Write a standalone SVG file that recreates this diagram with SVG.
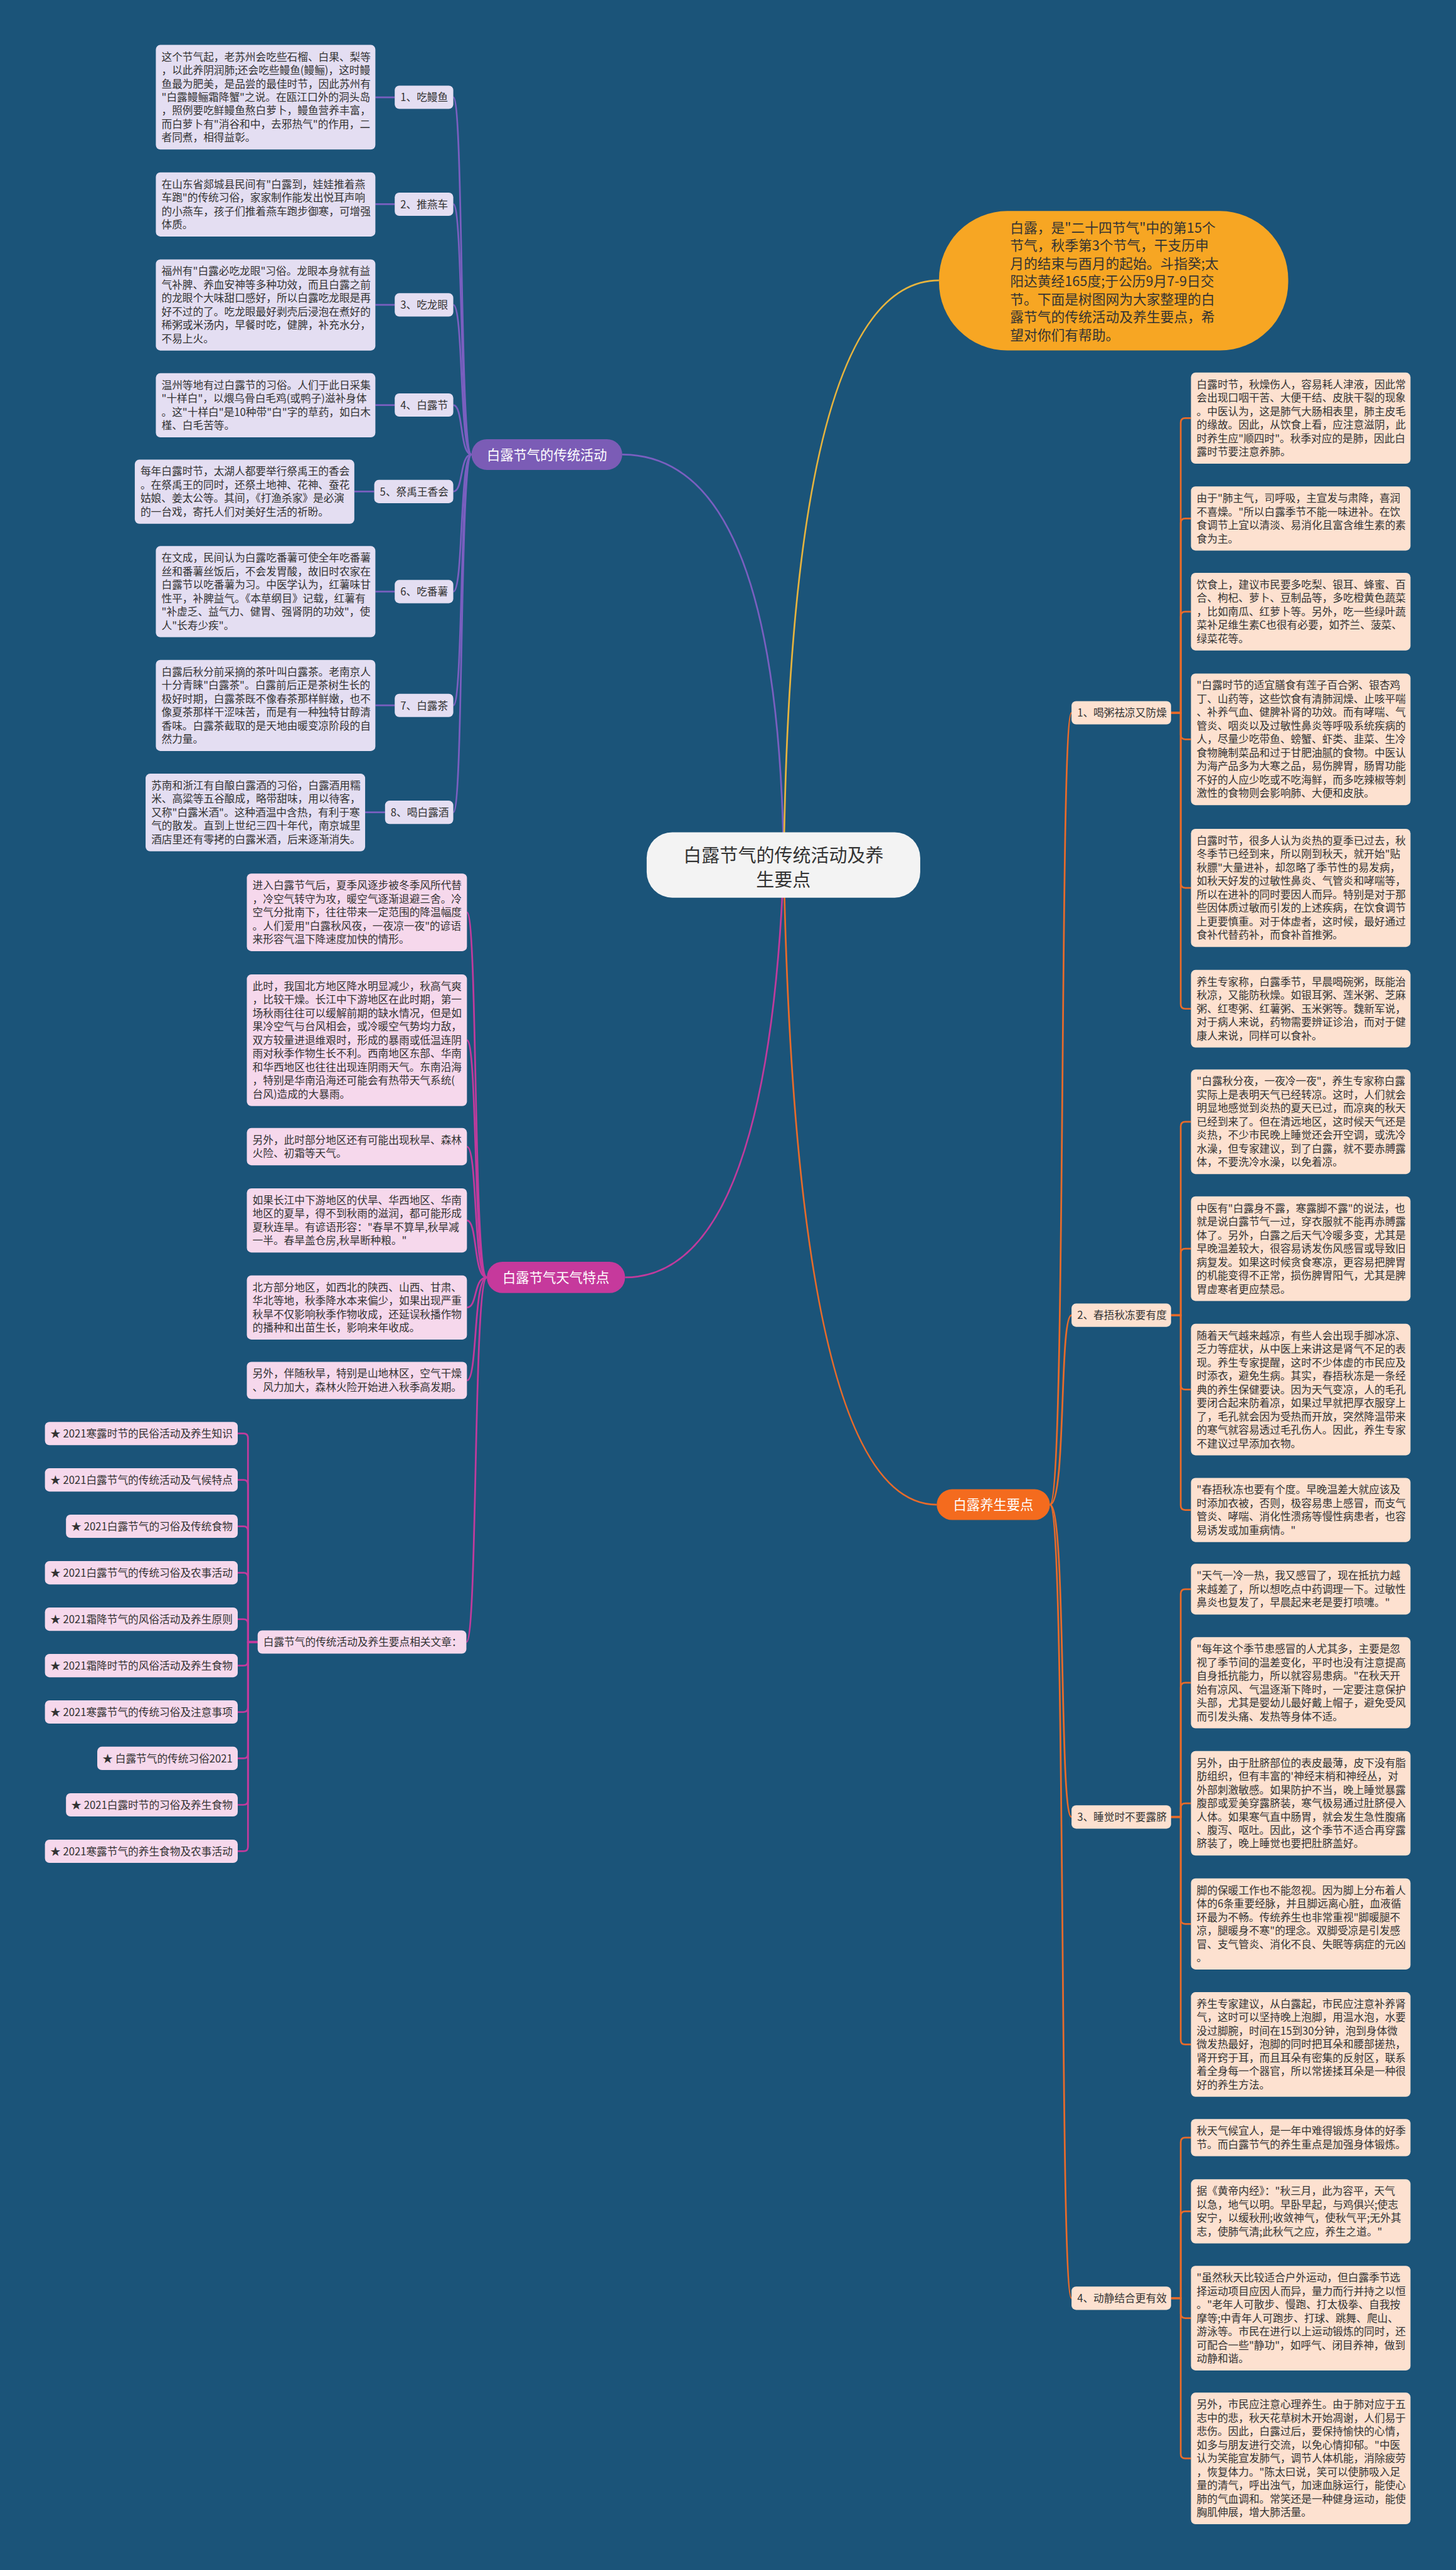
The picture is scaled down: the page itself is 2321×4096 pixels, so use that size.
<svg xmlns="http://www.w3.org/2000/svg" width="2321" height="4096" viewBox="0 0 2321 4096">
<style>
.t{font-family:"Noto Sans CJK SC","Noto Sans",sans-serif;font-size:18.4px;fill:#333}
.tw{font-family:"Noto Sans CJK SC","Noto Sans",sans-serif;font-size:23.5px;fill:#fff}
.tc{font-family:"Noto Sans CJK SC","Noto Sans",sans-serif;font-size:32px;fill:#333}
.tb{font-family:"Noto Sans CJK SC","Noto Sans",sans-serif;font-size:24px;fill:#333}
.pu{fill:#e4def2}
.pk{fill:#f6d8ec}
.or{fill:#fde1d0}
.lp{stroke:#7a5fc0;stroke-width:3;fill:none}
.lm{stroke:#c13b9d;stroke-width:3;fill:none}
.lo{stroke:#e86b2a;stroke-width:3;fill:none}
.ly{stroke:#e7b43e;stroke-width:3;fill:none}
</style>
<rect width="2321" height="4096" fill="#1b5479"/>
<g transform="scale(0.90664)">
<g id="connectors">
<path class="lp" d="M1094,799 Q1370,799 1378,1520"/>
<path class="ly" d="M1651,493 Q1390,493 1378,1520"/>
<path class="lm" d="M1099,2245.5 Q1350,2245.5 1378,1520"/>
<path class="lo" d="M1647,2645 Q1400,2645 1378,1520"/>
<path class="lp" d="M797,171 C815,171 808,799 829,799"/>
<path class="lp" d="M797,359 C815,359 808,799 829,799"/>
<path class="lp" d="M797,536 C815,536 808,799 829,799"/>
<path class="lp" d="M797,712 C815,712 808,799 829,799"/>
<path class="lp" d="M797,864 C815,864 808,799 829,799"/>
<path class="lp" d="M797,1040 C815,1040 808,799 829,799"/>
<path class="lp" d="M797,1240 C815,1240 808,799 829,799"/>
<path class="lp" d="M797,1428 C815,1428 808,799 829,799"/>
<path class="lp" d="M660,171 H694 M660,359 H694 M660,536 H694 M660,712 H694 M623,864 H658 M660,1040 H694 M660,1240 H694 M642,1428 H677"/>
<path class="lm" d="M821,1603.75 C840,1603.75 832,2245.5 856,2245.5"/>
<path class="lm" d="M821,1828.65 C840,1828.65 832,2245.5 856,2245.5"/>
<path class="lm" d="M821,2015.7 C840,2015.7 832,2245.5 856,2245.5"/>
<path class="lm" d="M821,2145.4 C840,2145.4 832,2245.5 856,2245.5"/>
<path class="lm" d="M821,2298.4 C840,2298.4 832,2245.5 856,2245.5"/>
<path class="lm" d="M821,2426.7 C840,2426.7 832,2245.5 856,2245.5"/>
<path class="lm" d="M820,2886.5 C840,2886.5 832,2245.5 856,2245.5"/>
<path class="lm" d="M453,2886.5 H436 V2528 Q436,2520 428,2520 H418"/>
<path class="lm" d="M453,2886.5 H436 V2609.5 Q436,2601.5 428,2601.5 H418"/>
<path class="lm" d="M453,2886.5 H436 V2691 Q436,2683 428,2683 H418"/>
<path class="lm" d="M453,2886.5 H436 V2772.7 Q436,2764.7 428,2764.7 H418"/>
<path class="lm" d="M453,2886.5 H436 V2854.3 Q436,2846.3 428,2846.3 H418"/>
<path class="lm" d="M453,2886.5 H436 V2920 Q436,2928 428,2928 H418"/>
<path class="lm" d="M453,2886.5 H436 V3001.5 Q436,3009.5 428,3009.5 H418"/>
<path class="lm" d="M453,2886.5 H436 V3083 Q436,3091 428,3091 H418"/>
<path class="lm" d="M453,2886.5 H436 V3164.7 Q436,3172.7 428,3172.7 H418"/>
<path class="lm" d="M453,2886.5 H436 V3246.3 Q436,3254.3 428,3254.3 H418"/>
<path class="lo" d="M1846,2645 C1875,2645 1862,1253 1884,1253"/>
<path class="lo" d="M1846,2645 C1875,2645 1862,2312 1884,2312"/>
<path class="lo" d="M1846,2645 C1875,2645 1862,3194 1884,3194"/>
<path class="lo" d="M1846,2645 C1875,2645 1862,4040 1884,4040"/>
<path class="lo" d="M2059,1253 H2076 V743 Q2076,735 2084,735 H2094"/>
<path class="lo" d="M2059,1253 H2076 V919.4 Q2076,911.4 2084,911.4 H2094"/>
<path class="lo" d="M2059,1253 H2076 V1083.3 Q2076,1075.3 2084,1075.3 H2094"/>
<path class="lo" d="M2059,1253 H2076 V1291.7 Q2076,1299.7 2084,1299.7 H2094"/>
<path class="lo" d="M2059,1253 H2076 V1552.8 Q2076,1560.8 2084,1560.8 H2094"/>
<path class="lo" d="M2059,1253 H2076 V1765.3 Q2076,1773.3 2084,1773.3 H2094"/>
<path class="lo" d="M2059,2312 H2076 V1980 Q2076,1972 2084,1972 H2094"/>
<path class="lo" d="M2059,2312 H2076 V2203 Q2076,2195 2084,2195 H2094"/>
<path class="lo" d="M2059,2312 H2076 V2434.7 Q2076,2442.7 2084,2442.7 H2094"/>
<path class="lo" d="M2059,2312 H2076 V2646.4 Q2076,2654.4 2084,2654.4 H2094"/>
<path class="lo" d="M2059,3194 H2076 V2801.6 Q2076,2793.6 2084,2793.6 H2094"/>
<path class="lo" d="M2059,3194 H2076 V2966.1 Q2076,2958.1 2084,2958.1 H2094"/>
<path class="lo" d="M2059,3194 H2076 V3178 Q2076,3170 2084,3170 H2094"/>
<path class="lo" d="M2059,3194 H2076 V3374.1 Q2076,3382.1 2084,3382.1 H2094"/>
<path class="lo" d="M2059,3194 H2076 V3586 Q2076,3594 2084,3594 H2094"/>
<path class="lo" d="M2059,4040 H2076 V3765.7 Q2076,3757.7 2084,3757.7 H2094"/>
<path class="lo" d="M2059,4040 H2076 V3895.4 Q2076,3887.4 2084,3887.4 H2094"/>
<path class="lo" d="M2059,4040 H2076 V4067 Q2076,4075 2084,4075 H2094"/>
<path class="lo" d="M2059,4040 H2076 V4313.7 Q2076,4321.7 2084,4321.7 H2094"/>
</g>

<g id="center"><rect x="1137" y="1463" width="481" height="115" rx="45" fill="#f3f3f3"/>
<text class="tc" x="1377.5" y="1515" text-anchor="middle">白露节气的传统活动及养</text>
<text class="tc" x="1377.5" y="1558" text-anchor="middle">生要点</text></g>

<g id="intro"><rect x="1651" y="371" width="614" height="245" rx="120" fill="#f7a623"/>
<text class="tb" x="1776" y="409"><tspan x="1776" dy="0">白露，是"二十四节气"中的第15个</tspan><tspan x="1776" dy="31.4">节气，秋季第3个节气，干支历申</tspan><tspan x="1776" dy="31.4">月的结束与酉月的起始。斗指癸;太</tspan><tspan x="1776" dy="31.4">阳达黄经165度;于公历9月7-9日交</tspan><tspan x="1776" dy="31.4">节。下面是树图网为大家整理的白</tspan><tspan x="1776" dy="31.4">露节气的传统活动及养生要点，希</tspan><tspan x="1776" dy="31.4">望对你们有帮助。</tspan></text></g>

<g id="b-huodong"><rect x="829" y="772" width="265" height="54" rx="27" fill="#7b5cb6"/>
<text class="tw" x="961.5" y="808" text-anchor="middle">白露节气的传统活动</text></g>

<g id="b-tianqi"><rect x="856" y="2218" width="243" height="55" rx="27.5" fill="#c6399c"/>
<text class="tw" x="977.5" y="2254.5" text-anchor="middle">白露节气天气特点</text></g>

<g id="b-yangsheng"><rect x="1647" y="2618" width="199" height="54" rx="27" fill="#f46b1e"/>
<text class="tw" x="1746.5" y="2654" text-anchor="middle">白露养生要点</text></g>

<g id="h-l1"><rect class="pu" x="694" y="150.5" width="103" height="41" rx="8"/><text class="t" x="704" y="178">1、吃鳗鱼</text></g>
<g id="h-l2"><rect class="pu" x="694" y="338.5" width="103" height="41" rx="8"/><text class="t" x="704" y="366">2、推燕车</text></g>
<g id="h-l3"><rect class="pu" x="694" y="515.5" width="103" height="41" rx="8"/><text class="t" x="704" y="543">3、吃龙眼</text></g>
<g id="h-l4"><rect class="pu" x="694" y="691.5" width="103" height="41" rx="8"/><text class="t" x="704" y="719">4、白露节</text></g>
<g id="h-l5"><rect class="pu" x="658" y="843.5" width="139" height="41" rx="8"/><text class="t" x="668" y="871">5、祭禹王香会</text></g>
<g id="h-l6"><rect class="pu" x="694" y="1019.5" width="103" height="41" rx="8"/><text class="t" x="704" y="1047">6、吃番薯</text></g>
<g id="h-l7"><rect class="pu" x="694" y="1219.5" width="103" height="41" rx="8"/><text class="t" x="704" y="1247">7、白露茶</text></g>
<g id="h-l8"><rect class="pu" x="677" y="1407.5" width="120" height="41" rx="8"/><text class="t" x="687" y="1435">8、喝白露酒</text></g>

<g id="h-n1"><rect class="pu" x="274" y="79" width="386" height="183.9" rx="8"/><text class="t" x="284" y="106.5"><tspan x="284" dy="0">这个节气起，老苏州会吃些石榴、白果、梨等</tspan><tspan x="284" dy="23.7">，以此养阴润肺;还会吃些鳗鱼(鳗鲡)，这时鳗</tspan><tspan x="284" dy="23.7">鱼最为肥美，是品尝的最佳时节，因此苏州有</tspan><tspan x="284" dy="23.7">"白露鳗鲡霜降蟹"之说。在瓯江口外的洞头岛</tspan><tspan x="284" dy="23.7">，照例要吃鲜鳗鱼熬白萝卜，鳗鱼营养丰富，</tspan><tspan x="284" dy="23.7">而白萝卜有"消谷和中，去邪热气"的作用，二</tspan><tspan x="284" dy="23.7">者同煮，相得益彰。</tspan></text></g>
<g id="h-n2"><rect class="pu" x="274" y="303" width="386" height="112.8" rx="8"/><text class="t" x="284" y="330.5"><tspan x="284" dy="0">在山东省郯城县民间有"白露到，娃娃推着燕</tspan><tspan x="284" dy="23.7">车跑"的传统习俗，家家制作能发出悦耳声响</tspan><tspan x="284" dy="23.7">的小燕车，孩子们推着燕车跑步御寒，可增强</tspan><tspan x="284" dy="23.7">体质。</tspan></text></g>
<g id="h-n3"><rect class="pu" x="274" y="456" width="386" height="160.2" rx="8"/><text class="t" x="284" y="483.5"><tspan x="284" dy="0">福州有"白露必吃龙眼"习俗。龙眼本身就有益</tspan><tspan x="284" dy="23.7">气补脾、养血安神等多种功效，而且白露之前</tspan><tspan x="284" dy="23.7">的龙眼个大味甜口感好，所以白露吃龙眼是再</tspan><tspan x="284" dy="23.7">好不过的了。吃龙眼最好剥壳后浸泡在煮好的</tspan><tspan x="284" dy="23.7">稀粥或米汤内，早餐时吃，健脾，补充水分，</tspan><tspan x="284" dy="23.7">不易上火。</tspan></text></g>
<g id="h-n4"><rect class="pu" x="274" y="656" width="386" height="112.8" rx="8"/><text class="t" x="284" y="683.5"><tspan x="284" dy="0">温州等地有过白露节的习俗。人们于此日采集</tspan><tspan x="284" dy="23.7">"十样白"，以煨乌骨白毛鸡(或鸭子)滋补身体</tspan><tspan x="284" dy="23.7">。这"十样白"是10种带"白"字的草药，如白木</tspan><tspan x="284" dy="23.7">槿、白毛苦等。</tspan></text></g>
<g id="h-n5"><rect class="pu" x="237" y="808" width="386" height="112.8" rx="8"/><text class="t" x="247" y="835.5"><tspan x="247" dy="0">每年白露时节，太湖人都要举行祭禹王的香会</tspan><tspan x="247" dy="23.7">。在祭禹王的同时，还祭土地神、花神、蚕花</tspan><tspan x="247" dy="23.7">姑娘、姜太公等。其间，《打渔杀家》是必演</tspan><tspan x="247" dy="23.7">的一台戏，寄托人们对美好生活的祈盼。</tspan></text></g>
<g id="h-n6"><rect class="pu" x="274" y="960" width="386" height="160.2" rx="8"/><text class="t" x="284" y="987.5"><tspan x="284" dy="0">在文成，民间认为白露吃番薯可使全年吃番薯</tspan><tspan x="284" dy="23.7">丝和番薯丝饭后，不会发胃酸，故旧时农家在</tspan><tspan x="284" dy="23.7">白露节以吃番薯为习。中医学认为，红薯味甘</tspan><tspan x="284" dy="23.7">性平，补脾益气。《本草纲目》记载，红薯有</tspan><tspan x="284" dy="23.7">"补虚乏、益气力、健胃、强肾阴的功效"，使</tspan><tspan x="284" dy="23.7">人"长寿少疾"。</tspan></text></g>
<g id="h-n7"><rect class="pu" x="274" y="1160" width="386" height="160.2" rx="8"/><text class="t" x="284" y="1187.5"><tspan x="284" dy="0">白露后秋分前采摘的茶叶叫白露茶。老南京人</tspan><tspan x="284" dy="23.7">十分青睐"白露茶"。白露前后正是茶树生长的</tspan><tspan x="284" dy="23.7">极好时期，白露茶既不像春茶那样鲜嫩，也不</tspan><tspan x="284" dy="23.7">像夏茶那样干涩味苦，而是有一种独特甘醇清</tspan><tspan x="284" dy="23.7">香味。白露茶截取的是天地由暖变凉阶段的自</tspan><tspan x="284" dy="23.7">然力量。</tspan></text></g>
<g id="h-n8"><rect class="pu" x="256" y="1360" width="386" height="136.5" rx="8"/><text class="t" x="266" y="1387.5"><tspan x="266" dy="0">苏南和浙江有自酿白露酒的习俗，白露酒用糯</tspan><tspan x="266" dy="23.7">米、高粱等五谷酿成，略带甜味，用以待客，</tspan><tspan x="266" dy="23.7">又称"白露米酒"。这种酒温中含热，有利于寒</tspan><tspan x="266" dy="23.7">气的散发。直到上世纪三四十年代，南京城里</tspan><tspan x="266" dy="23.7">酒店里还有零拷的白露米酒，后来逐渐消失。</tspan></text></g>

<g id="w-a"><rect class="pk" x="434" y="1535.5" width="387" height="136.5" rx="8"/><text class="t" x="444" y="1563"><tspan x="444" dy="0">进入白露节气后，夏季风逐步被冬季风所代替</tspan><tspan x="444" dy="23.7">，冷空气转守为攻，暖空气逐渐退避三舍。冷</tspan><tspan x="444" dy="23.7">空气分批南下，往往带来一定范围的降温幅度</tspan><tspan x="444" dy="23.7">。人们爱用"白露秋风夜，一夜凉一夜"的谚语</tspan><tspan x="444" dy="23.7">来形容气温下降速度加快的情形。</tspan></text></g>
<g id="w-b"><rect class="pk" x="434" y="1713" width="387" height="231.3" rx="8"/><text class="t" x="444" y="1740.5"><tspan x="444" dy="0">此时，我国北方地区降水明显减少，秋高气爽</tspan><tspan x="444" dy="23.7">，比较干燥。长江中下游地区在此时期，第一</tspan><tspan x="444" dy="23.7">场秋雨往往可以缓解前期的缺水情况，但是如</tspan><tspan x="444" dy="23.7">果冷空气与台风相会，或冷暖空气势均力敌，</tspan><tspan x="444" dy="23.7">双方较量进退维艰时，形成的暴雨或低温连阴</tspan><tspan x="444" dy="23.7">雨对秋季作物生长不利。西南地区东部、华南</tspan><tspan x="444" dy="23.7">和华西地区也往往出现连阴雨天气。东南沿海</tspan><tspan x="444" dy="23.7">，特别是华南沿海还可能会有热带天气系统(</tspan><tspan x="444" dy="23.7">台风)造成的大暴雨。</tspan></text></g>
<g id="w-c"><rect class="pk" x="434" y="1983" width="387" height="65.4" rx="8"/><text class="t" x="444" y="2010.5"><tspan x="444" dy="0">另外，此时部分地区还有可能出现秋旱、森林</tspan><tspan x="444" dy="23.7">火险、初霜等天气。</tspan></text></g>
<g id="w-d"><rect class="pk" x="434" y="2089" width="387" height="112.8" rx="8"/><text class="t" x="444" y="2116.5"><tspan x="444" dy="0">如果长江中下游地区的伏旱、华西地区、华南</tspan><tspan x="444" dy="23.7">地区的夏旱，得不到秋雨的滋润，都可能形成</tspan><tspan x="444" dy="23.7">夏秋连旱。有谚语形容："春旱不算旱,秋旱减</tspan><tspan x="444" dy="23.7">一半。春旱盖仓房,秋旱断种粮。"</tspan></text></g>
<g id="w-e"><rect class="pk" x="434" y="2242" width="387" height="112.8" rx="8"/><text class="t" x="444" y="2269.5"><tspan x="444" dy="0">北方部分地区，如西北的陕西、山西、甘肃、</tspan><tspan x="444" dy="23.7">华北等地，秋季降水本来偏少，如果出现严重</tspan><tspan x="444" dy="23.7">秋旱不仅影响秋季作物收成，还延误秋播作物</tspan><tspan x="444" dy="23.7">的播种和出苗生长，影响来年收成。</tspan></text></g>
<g id="w-f"><rect class="pk" x="434" y="2394" width="387" height="65.4" rx="8"/><text class="t" x="444" y="2421.5"><tspan x="444" dy="0">另外，伴随秋旱，特别是山地林区，空气干燥</tspan><tspan x="444" dy="23.7">、风力加大，森林火险开始进入秋季高发期。</tspan></text></g>

<g id="rel"><rect class="pk" x="453" y="2866" width="367" height="41" rx="8"/><text class="t" x="463" y="2893.5">白露节气的传统活动及养生要点相关文章：</text></g>
<g id="rel-1"><rect class="pk" x="79" y="2499.5" width="339" height="41" rx="8"/><text class="t" x="409" y="2527" text-anchor="end">★ 2021寒露时节的民俗活动及养生知识</text></g>
<g id="rel-2"><rect class="pk" x="79" y="2581" width="339" height="41" rx="8"/><text class="t" x="409" y="2608.5" text-anchor="end">★ 2021白露节气的传统活动及气候特点</text></g>
<g id="rel-3"><rect class="pk" x="116" y="2662.5" width="302" height="41" rx="8"/><text class="t" x="409" y="2690" text-anchor="end">★ 2021白露节气的习俗及传统食物</text></g>
<g id="rel-4"><rect class="pk" x="79" y="2744.2" width="339" height="41" rx="8"/><text class="t" x="409" y="2771.7" text-anchor="end">★ 2021白露节气的传统习俗及农事活动</text></g>
<g id="rel-5"><rect class="pk" x="79" y="2825.8" width="339" height="41" rx="8"/><text class="t" x="409" y="2853.3" text-anchor="end">★ 2021霜降节气的风俗活动及养生原则</text></g>
<g id="rel-6"><rect class="pk" x="79" y="2907.5" width="339" height="41" rx="8"/><text class="t" x="409" y="2935" text-anchor="end">★ 2021霜降时节的风俗活动及养生食物</text></g>
<g id="rel-7"><rect class="pk" x="79" y="2989" width="339" height="41" rx="8"/><text class="t" x="409" y="3016.5" text-anchor="end">★ 2021寒露节气的传统习俗及注意事项</text></g>
<g id="rel-8"><rect class="pk" x="171" y="3070.5" width="247" height="41" rx="8"/><text class="t" x="409" y="3098" text-anchor="end">★ 白露节气的传统习俗2021</text></g>
<g id="rel-9"><rect class="pk" x="116" y="3152.2" width="302" height="41" rx="8"/><text class="t" x="409" y="3179.7" text-anchor="end">★ 2021白露时节的习俗及养生食物</text></g>
<g id="rel-10"><rect class="pk" x="79" y="3233.8" width="339" height="41" rx="8"/><text class="t" x="409" y="3261.3" text-anchor="end">★ 2021寒露节气的养生食物及农事活动</text></g>

<g id="y-l1"><rect class="or" x="1884" y="1232.5" width="175" height="41" rx="8"/><text class="t" x="1894" y="1260">1、喝粥祛凉又防燥</text></g>
<g id="y-l2"><rect class="or" x="1884" y="2291.5" width="175" height="41" rx="8"/><text class="t" x="1894" y="2319">2、春捂秋冻要有度</text></g>
<g id="y-l3"><rect class="or" x="1884" y="3173.5" width="175" height="41" rx="8"/><text class="t" x="1894" y="3201">3、睡觉时不要露脐</text></g>
<g id="y-l4"><rect class="or" x="1884" y="4019.5" width="175" height="41" rx="8"/><text class="t" x="1894" y="4047">4、动静结合更有效</text></g>

<g id="y-1a"><rect class="or" x="2094" y="655" width="386" height="160.2" rx="8"/><text class="t" x="2104" y="682.5"><tspan x="2104" dy="0">白露时节，秋燥伤人，容易耗人津液，因此常</tspan><tspan x="2104" dy="23.7">会出现口咽干苦、大便干结、皮肤干裂的现象</tspan><tspan x="2104" dy="23.7">。中医认为，这是肺气大肠相表里，肺主皮毛</tspan><tspan x="2104" dy="23.7">的缘故。因此，从饮食上看，应注意滋阴，此</tspan><tspan x="2104" dy="23.7">时养生应"顺四时"。秋季对应的是肺，因此白</tspan><tspan x="2104" dy="23.7">露时节要注意养肺。</tspan></text></g>
<g id="y-1b"><rect class="or" x="2094" y="855" width="386" height="112.8" rx="8"/><text class="t" x="2104" y="882.5"><tspan x="2104" dy="0">由于"肺主气，司呼吸，主宣发与肃降，喜润</tspan><tspan x="2104" dy="23.7">不喜燥。"所以白露季节不能一味进补。在饮</tspan><tspan x="2104" dy="23.7">食调节上宜以清淡、易消化且富含维生素的素</tspan><tspan x="2104" dy="23.7">食为主。</tspan></text></g>
<g id="y-1c"><rect class="or" x="2094" y="1007" width="386" height="136.5" rx="8"/><text class="t" x="2104" y="1034.5"><tspan x="2104" dy="0">饮食上，建议市民要多吃梨、银耳、蜂蜜、百</tspan><tspan x="2104" dy="23.7">合、枸杞、萝卜、豆制品等，多吃橙黄色蔬菜</tspan><tspan x="2104" dy="23.7">，比如南瓜、红萝卜等。另外，吃一些绿叶蔬</tspan><tspan x="2104" dy="23.7">菜补足维生素C也很有必要，如芥兰、菠菜、</tspan><tspan x="2104" dy="23.7">绿菜花等。</tspan></text></g>
<g id="y-1d"><rect class="or" x="2094" y="1184" width="386" height="231.3" rx="8"/><text class="t" x="2104" y="1211.5"><tspan x="2104" dy="0">"白露时节的适宜膳食有莲子百合粥、银杏鸡</tspan><tspan x="2104" dy="23.7">丁、山药等，这些饮食有清肺润燥、止咳平喘</tspan><tspan x="2104" dy="23.7">、补养气血、健脾补肾的功效。而有哮喘、气</tspan><tspan x="2104" dy="23.7">管炎、咽炎以及过敏性鼻炎等呼吸系统疾病的</tspan><tspan x="2104" dy="23.7">人，尽量少吃带鱼、螃蟹、虾类、韭菜、生冷</tspan><tspan x="2104" dy="23.7">食物腌制菜品和过于甘肥油腻的食物。中医认</tspan><tspan x="2104" dy="23.7">为海产品多为大寒之品，易伤脾胃，肠胃功能</tspan><tspan x="2104" dy="23.7">不好的人应少吃或不吃海鲜，而多吃辣椒等刺</tspan><tspan x="2104" dy="23.7">激性的食物则会影响肺、大便和皮肤。</tspan></text></g>
<g id="y-1e"><rect class="or" x="2094" y="1457" width="386" height="207.6" rx="8"/><text class="t" x="2104" y="1484.5"><tspan x="2104" dy="0">白露时节，很多人认为炎热的夏季已过去，秋</tspan><tspan x="2104" dy="23.7">冬季节已经到来，所以刚到秋天，就开始"贴</tspan><tspan x="2104" dy="23.7">秋膘"大量进补，却忽略了季节性的易发病，</tspan><tspan x="2104" dy="23.7">如秋天好发的过敏性鼻炎、气管炎和哮喘等，</tspan><tspan x="2104" dy="23.7">所以在进补的同时要因人而异。特别是对于那</tspan><tspan x="2104" dy="23.7">些因体质过敏而引发的上述疾病，在饮食调节</tspan><tspan x="2104" dy="23.7">上更要慎重。对于体虚者，这时候，最好通过</tspan><tspan x="2104" dy="23.7">食补代替药补，而食补首推粥。</tspan></text></g>
<g id="y-1f"><rect class="or" x="2094" y="1705" width="386" height="136.5" rx="8"/><text class="t" x="2104" y="1732.5"><tspan x="2104" dy="0">养生专家称，白露季节，早晨喝碗粥，既能治</tspan><tspan x="2104" dy="23.7">秋凉，又能防秋燥。如银耳粥、莲米粥、芝麻</tspan><tspan x="2104" dy="23.7">粥、红枣粥、红薯粥、玉米粥等。魏新军说，</tspan><tspan x="2104" dy="23.7">对于病人来说，药物需要辨证诊治，而对于健</tspan><tspan x="2104" dy="23.7">康人来说，同样可以食补。</tspan></text></g>
<g id="y-2a"><rect class="or" x="2094" y="1880" width="386" height="183.9" rx="8"/><text class="t" x="2104" y="1907.5"><tspan x="2104" dy="0">"白露秋分夜，一夜冷一夜"，养生专家称白露</tspan><tspan x="2104" dy="23.7">实际上是表明天气已经转凉。这时，人们就会</tspan><tspan x="2104" dy="23.7">明显地感觉到炎热的夏天已过，而凉爽的秋天</tspan><tspan x="2104" dy="23.7">已经到来了。但在清远地区，这时候天气还是</tspan><tspan x="2104" dy="23.7">炎热，不少市民晚上睡觉还会开空调，或洗冷</tspan><tspan x="2104" dy="23.7">水澡，但专家建议，到了白露，就不要赤膊露</tspan><tspan x="2104" dy="23.7">体，不要洗冷水澡，以免着凉。</tspan></text></g>
<g id="y-2b"><rect class="or" x="2094" y="2103" width="386" height="183.9" rx="8"/><text class="t" x="2104" y="2130.5"><tspan x="2104" dy="0">中医有"白露身不露，寒露脚不露"的说法，也</tspan><tspan x="2104" dy="23.7">就是说白露节气一过，穿衣服就不能再赤膊露</tspan><tspan x="2104" dy="23.7">体了。另外，白露之后天气冷暖多变，尤其是</tspan><tspan x="2104" dy="23.7">早晚温差较大，很容易诱发伤风感冒或导致旧</tspan><tspan x="2104" dy="23.7">病复发。如果这时候贪食寒凉，更容易把脾胃</tspan><tspan x="2104" dy="23.7">的机能变得不正常，损伤脾胃阳气，尤其是脾</tspan><tspan x="2104" dy="23.7">胃虚寒者更应禁忌。</tspan></text></g>
<g id="y-2c"><rect class="or" x="2094" y="2327" width="386" height="231.3" rx="8"/><text class="t" x="2104" y="2354.5"><tspan x="2104" dy="0">随着天气越来越凉，有些人会出现手脚冰凉、</tspan><tspan x="2104" dy="23.7">乏力等症状，从中医上来讲这是肾气不足的表</tspan><tspan x="2104" dy="23.7">现。养生专家提醒，这时不少体虚的市民应及</tspan><tspan x="2104" dy="23.7">时添衣，避免生病。其实，春捂秋冻是一条经</tspan><tspan x="2104" dy="23.7">典的养生保健要诀。因为天气变凉，人的毛孔</tspan><tspan x="2104" dy="23.7">要闭合起来防着凉，如果过早就把厚衣服穿上</tspan><tspan x="2104" dy="23.7">了，毛孔就会因为受热而开放，突然降温带来</tspan><tspan x="2104" dy="23.7">的寒气就容易透过毛孔伤人。因此，养生专家</tspan><tspan x="2104" dy="23.7">不建议过早添加衣物。</tspan></text></g>
<g id="y-2d"><rect class="or" x="2094" y="2598" width="386" height="112.8" rx="8"/><text class="t" x="2104" y="2625.5"><tspan x="2104" dy="0">"春捂秋冻也要有个度。早晚温差大就应该及</tspan><tspan x="2104" dy="23.7">时添加衣被，否则，极容易患上感冒，而支气</tspan><tspan x="2104" dy="23.7">管炎、哮喘、消化性溃疡等慢性病患者，也容</tspan><tspan x="2104" dy="23.7">易诱发或加重病情。"</tspan></text></g>
<g id="y-3a"><rect class="or" x="2094" y="2749" width="386" height="89.1" rx="8"/><text class="t" x="2104" y="2776.5"><tspan x="2104" dy="0">"天气一冷一热，我又感冒了，现在抵抗力越</tspan><tspan x="2104" dy="23.7">来越差了，所以想吃点中药调理一下。过敏性</tspan><tspan x="2104" dy="23.7">鼻炎也复发了，早晨起来老是要打喷嚏。"</tspan></text></g>
<g id="y-3b"><rect class="or" x="2094" y="2878" width="386" height="160.2" rx="8"/><text class="t" x="2104" y="2905.5"><tspan x="2104" dy="0">"每年这个季节患感冒的人尤其多，主要是忽</tspan><tspan x="2104" dy="23.7">视了季节间的温差变化，平时也没有注意提高</tspan><tspan x="2104" dy="23.7">自身抵抗能力，所以就容易患病。"在秋天开</tspan><tspan x="2104" dy="23.7">始有凉风、气温逐渐下降时，一定要注意保护</tspan><tspan x="2104" dy="23.7">头部，尤其是婴幼儿最好戴上帽子，避免受风</tspan><tspan x="2104" dy="23.7">而引发头痛、发热等身体不适。</tspan></text></g>
<g id="y-3c"><rect class="or" x="2094" y="3078" width="386" height="183.9" rx="8"/><text class="t" x="2104" y="3105.5"><tspan x="2104" dy="0">另外，由于肚脐部位的表皮最薄，皮下没有脂</tspan><tspan x="2104" dy="23.7">肪组织，但有丰富的'神经末梢和神经丛，对</tspan><tspan x="2104" dy="23.7">外部刺激敏感。如果防护不当，晚上睡觉暴露</tspan><tspan x="2104" dy="23.7">腹部或爱美穿露脐装，寒气极易通过肚脐侵入</tspan><tspan x="2104" dy="23.7">人体。如果寒气直中肠胃，就会发生急性腹痛</tspan><tspan x="2104" dy="23.7">、腹泻、呕吐。因此，这个季节不适合再穿露</tspan><tspan x="2104" dy="23.7">脐装了，晚上睡觉也要把肚脐盖好。</tspan></text></g>
<g id="y-3d"><rect class="or" x="2094" y="3302" width="386" height="160.2" rx="8"/><text class="t" x="2104" y="3329.5"><tspan x="2104" dy="0">脚的保暖工作也不能忽视。因为脚上分布着人</tspan><tspan x="2104" dy="23.7">体的6条重要经脉，并且脚远离心脏，血液循</tspan><tspan x="2104" dy="23.7">环最为不畅。传统养生也非常重视"脚暖腿不</tspan><tspan x="2104" dy="23.7">凉，腿暖身不寒"的理念。双脚受凉是引发感</tspan><tspan x="2104" dy="23.7">冒、支气管炎、消化不良、失眠等病症的元凶</tspan><tspan x="2104" dy="23.7">。</tspan></text></g>
<g id="y-3e"><rect class="or" x="2094" y="3502" width="386" height="183.9" rx="8"/><text class="t" x="2104" y="3529.5"><tspan x="2104" dy="0">养生专家建议，从白露起，市民应注意补养肾</tspan><tspan x="2104" dy="23.7">气，这时可以坚持晚上泡脚，用温水泡，水要</tspan><tspan x="2104" dy="23.7">没过脚腕，时间在15到30分钟，泡到身体微</tspan><tspan x="2104" dy="23.7">微发热最好，泡脚的同时把耳朵和腰部搓热，</tspan><tspan x="2104" dy="23.7">肾开窍于耳，而且耳朵有密集的反射区，联系</tspan><tspan x="2104" dy="23.7">着全身每一个器官，所以常搓揉耳朵是一种很</tspan><tspan x="2104" dy="23.7">好的养生方法。</tspan></text></g>
<g id="y-4a"><rect class="or" x="2094" y="3725" width="386" height="65.4" rx="8"/><text class="t" x="2104" y="3752.5"><tspan x="2104" dy="0">秋天气候宜人，是一年中难得锻炼身体的好季</tspan><tspan x="2104" dy="23.7">节。而白露节气的养生重点是加强身体锻炼。</tspan></text></g>
<g id="y-4b"><rect class="or" x="2094" y="3831" width="386" height="112.8" rx="8"/><text class="t" x="2104" y="3858.5"><tspan x="2104" dy="0">据《黄帝内经》："秋三月，此为容平，天气</tspan><tspan x="2104" dy="23.7">以急，地气以明。早卧早起，与鸡俱兴;使志</tspan><tspan x="2104" dy="23.7">安宁，以缓秋刑;收敛神气，使秋气平;无外其</tspan><tspan x="2104" dy="23.7">志，使肺气清;此秋气之应，养生之道。"</tspan></text></g>
<g id="y-4c"><rect class="or" x="2094" y="3983" width="386" height="183.9" rx="8"/><text class="t" x="2104" y="4010.5"><tspan x="2104" dy="0">"虽然秋天比较适合户外运动，但白露季节选</tspan><tspan x="2104" dy="23.7">择运动项目应因人而异，量力而行并持之以恒</tspan><tspan x="2104" dy="23.7">。"老年人可散步、慢跑、打太极拳、自我按</tspan><tspan x="2104" dy="23.7">摩等;中青年人可跑步、打球、跳舞、爬山、</tspan><tspan x="2104" dy="23.7">游泳等。市民在进行以上运动锻炼的同时，还</tspan><tspan x="2104" dy="23.7">可配合一些"静功"，如呼气、闭目养神，做到</tspan><tspan x="2104" dy="23.7">动静和谐。</tspan></text></g>
<g id="y-4d"><rect class="or" x="2094" y="4206" width="386" height="231.3" rx="8"/><text class="t" x="2104" y="4233.5"><tspan x="2104" dy="0">另外，市民应注意心理养生。由于肺对应于五</tspan><tspan x="2104" dy="23.7">志中的悲，秋天花草树木开始凋谢，人们易于</tspan><tspan x="2104" dy="23.7">悲伤。因此，白露过后，要保持愉快的心情，</tspan><tspan x="2104" dy="23.7">如多与朋友进行交流，以免心情抑郁。"中医</tspan><tspan x="2104" dy="23.7">认为笑能宣发肺气，调节人体机能，消除疲劳</tspan><tspan x="2104" dy="23.7">，恢复体力。"陈太曰说，笑可以使肺吸入足</tspan><tspan x="2104" dy="23.7">量的清气，呼出浊气，加速血脉运行，能使心</tspan><tspan x="2104" dy="23.7">肺的气血调和。常笑还是一种健身运动，能使</tspan><tspan x="2104" dy="23.7">胸肌伸展，增大肺活量。</tspan></text></g>
</g>
</svg>
